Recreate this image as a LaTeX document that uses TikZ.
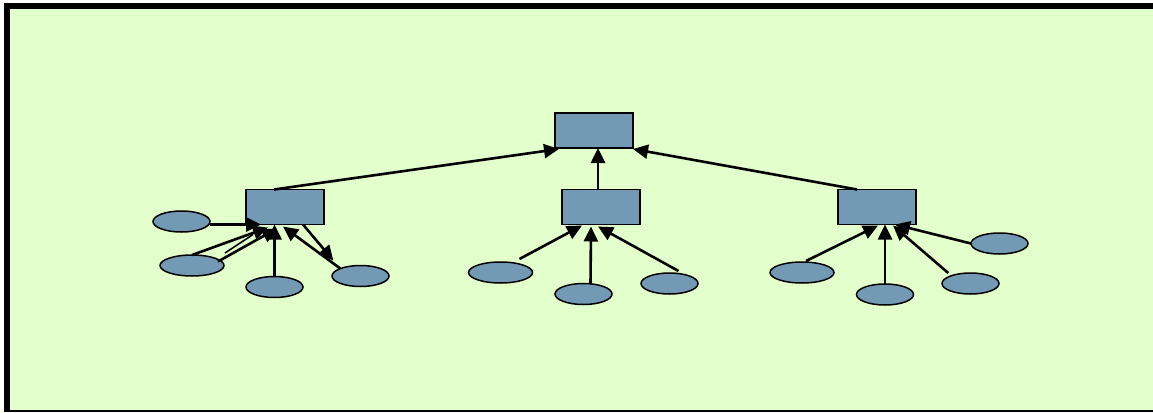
\documentclass[tikz,border=0pt]{standalone}
\usepackage{tikz}
\usepackage{xcolor}
\usetikzlibrary{arrows.meta, shapes, calc, positioning}
\definecolor{bggreen}{RGB}{227,255,204}
\definecolor{boxblue}{RGB}{114,154,180}
\tikzset{
  box/.style={draw, fill=boxblue, line width=1.5pt, minimum width=78pt, minimum height=35pt, inner sep=0pt, outer sep=0pt},
  leaf/.style={ellipse, draw, fill=boxblue, line width=1.5pt, minimum width=57pt, minimum height=21pt, inner sep=0pt, outer sep=0pt},
  wideleaf/.style={leaf, minimum width=64pt},
  pto/.style={-{Triangle[length=15pt,width=14pt]}, line width=2.6pt},
  thinl/.style={line width=1.6pt}
}

\begin{document}
\begin{tikzpicture}[x=1pt, y=-1pt]
  \useasboundingbox (0,0) rectangle (1153,412);
  \clip (0,0) rectangle (1153,412);
  \fill[bggreen] (4,3) rectangle (1160,411);
  \draw[line width=6pt] (7,411) -- (7,6) -- (1160,6);
  \draw[line width=1.8pt] (4,411) -- (1160,411);

  \node[box] (top) at (594,130.5) {};
  \node[box] (l) at (285,207) {};
  \node[box] (m) at (601,207) {};
  \node[box] (r) at (877,207) {};

  \node[leaf] (l1) at (181.5,221.5) {};
  \node[wideleaf] (l2) at (192,265.5) {};
  \node[leaf] (l3) at (274.5,287) {};
  \node[leaf] (l4) at (360.5,276) {};

  \node[wideleaf] (m1) at (500.5,272.5) {};
  \node[leaf] (m2) at (583.5,294) {};
  \node[leaf] (m3) at (669.5,283.5) {};

  \node[wideleaf] (r1) at (802,272.5) {};
  \node[leaf] (r2) at (885,294.5) {};
  \node[leaf] (r3) at (970.5,283.5) {};
  \node[leaf] (r4) at (999.5,243.5) {};

  \draw[pto] ($(l.north)+(-11,0)$) -- ($(top.south west)+(4,1)$);
  \draw[pto] ($(m.north)+(-3,0)$) -- ($(top.south)+(4,0)$);
  \draw[pto] ($(r.north)+(-20,0)$) -- ($(top.south east)+(0,1)$);

  \draw[pto] ($(l1.east)+(0,3)$) -- ($(l.south west)+(15,0)$);
  \draw[pto] (l2.north) -- ($(l.south west)+(22,3)$);
  \draw[thinl] ($(l2.north)+(33,-2)$) -- ($(l.south west)+(7,10)$);
  \draw[pto] ($(l2.east)+(-6,-4)$) -- ($(l.south west)+(31,4)$);
  \draw[pto] (l3.north) -- (l3.north |- l.south);
  \draw[pto] (l4.north west) -- ($(l.south)+(-2,2)$);
  \draw[pto] ($(l.south)+(18,0)$) -- ($(l4.north west)+(-7,-8)$);

  \draw[pto] ($(m1.north)+(19,-3)$) -- ($(m.south)+(-19,1)$);
  \draw[pto] ($(m2.north)+(7,0)$) -- ($(m.south)+(-10,2)$);
  \draw[pto] ($(m3.north)+(9,-2)$) -- ($(m.south)+(-3,2)$);

  \draw[pto] ($(r1.north)+(4,-1)$) -- ($(r.south)+(1,1)$);
  \draw[pto] (r2.north) -- (r2.north |- r.south);
  \draw[pto] ($(r3.north west)+(-2,-3)$) -- ($(r.south)+(16,1)$);
  \draw[pto] (r4.west) -- ($(r.south)+(18,0)$);
\end{tikzpicture}
\end{document}
